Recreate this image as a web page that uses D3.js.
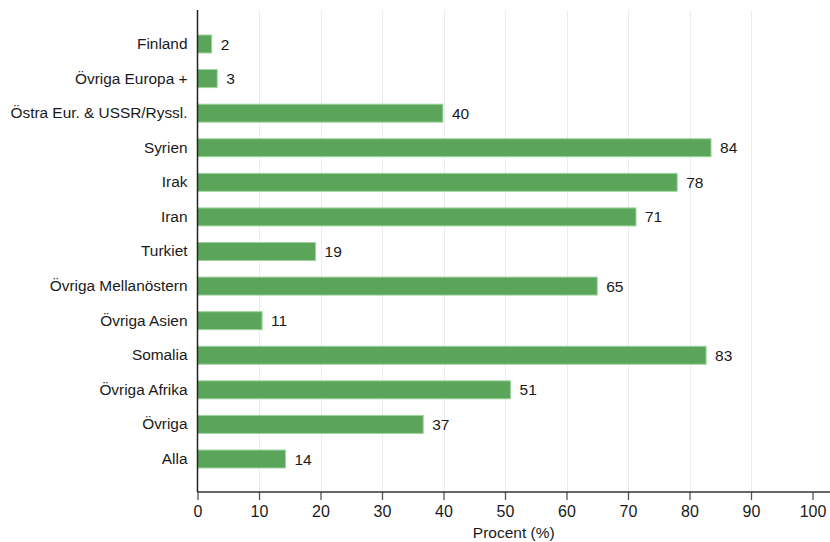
<!DOCTYPE html>
<html>
<head>
<meta charset="utf-8">
<script src="https://cdn.jsdelivr.net/npm/d3@7"></script>
<style>
  html, body { margin: 0; padding: 0; background: #fff; }
  svg { display: block; font-family: "Liberation Sans", Arial, sans-serif; }
</style>
</head>
<body>
<svg id="chart" width="830" height="542"></svg>
<script>
const categories = ["Finland", "Övriga Europa +", "Östra Eur. & USSR/Ryssl.", "Syrien", "Irak", "Iran", "Turkiet", "Övriga Mellanöstern", "Övriga Asien", "Somalia", "Övriga Afrika", "Övriga", "Alla"];
const values = [2.3, 3.2, 39.9, 83.5, 78.0, 71.3, 19.2, 65.0, 10.5, 82.7, 50.9, 36.7, 14.3];
const xTicks = [0, 10, 20, 30, 40, 50, 60, 70, 80, 90, 100];
const xTitle = "Procent (%)";

const svg = d3.select("#chart");
const x0 = 197.5, x100 = 812.5, yBottom = 492, yTop = 10;

const x = d3.scaleLinear().domain([0, 100]).range([x0, x100]);
const y = d3.scaleBand().domain(categories).range([26.7, 476.3]).paddingInner(0.48).paddingOuter(0.24);

// gridlines
svg.append("g").selectAll("line").data(xTicks.filter(t => t > 0 && t < 100)).join("line")
  .attr("x1", d => Math.round(x(d)) + 0.5).attr("x2", d => Math.round(x(d)) + 0.5)
  .attr("y1", yTop).attr("y2", yBottom)
  .attr("stroke", "#ececec").attr("stroke-width", 1);

// bars
svg.append("g").selectAll("rect").data(categories).join("rect")
  .attr("x", x(0))
  .attr("y", d => y(d))
  .attr("width", (d, i) => x(values[i]) - x(0))
  .attr("height", y.bandwidth())
  .attr("fill", "#5aa55a")
  .attr("stroke", "#9fd49f")
  .attr("stroke-width", 1);

// value labels
svg.append("g").selectAll("text").data(categories).join("text")
  .attr("x", (d, i) => x(values[i]) + 9)
  .attr("y", d => y(d) + y.bandwidth() / 2)
  .attr("dy", "0.36em")
  .attr("font-size", 15.5)
  .attr("fill", "#1a1a1a")
  .text((d, i) => Math.round(values[i]));

// category labels (y axis)
const yAxis = d3.axisLeft(y).tickSize(0).tickPadding(10);
const gy = svg.append("g").attr("transform", `translate(${x0},0)`).call(yAxis);
gy.select(".domain").remove();
gy.selectAll("text").attr("font-size", 15.4).attr("fill", "#1a1a1a").attr("font-family", "Liberation Sans, Arial, sans-serif");

// y axis line
svg.append("line").attr("x1", x0).attr("x2", x0).attr("y1", yTop).attr("y2", yBottom)
  .attr("stroke", "#222").attr("stroke-width", 1.5);

// x axis
const xAxis = d3.axisBottom(x).tickValues(xTicks).tickSize(8).tickPadding(6).tickSizeOuter(0);
const gx = svg.append("g").attr("transform", `translate(0,${yBottom})`).call(xAxis);
gx.select(".domain").remove();
gx.selectAll(".tick line").attr("stroke", "#555").attr("stroke-width", 1.3);
gx.selectAll("text").attr("font-size", 16).attr("fill", "#1a1a1a").attr("font-family", "Liberation Sans, Arial, sans-serif");
svg.append("line").attr("x1", x0).attr("x2", 830).attr("y1", yBottom).attr("y2", yBottom)
  .attr("stroke", "#333").attr("stroke-width", 1.5);

// x title
svg.append("text").attr("x", (x0 + 830) / 2).attr("y", 538)
  .attr("text-anchor", "middle").attr("font-size", 15.5).attr("fill", "#1a1a1a")
  .text(xTitle);
</script>
</body>
</html>
